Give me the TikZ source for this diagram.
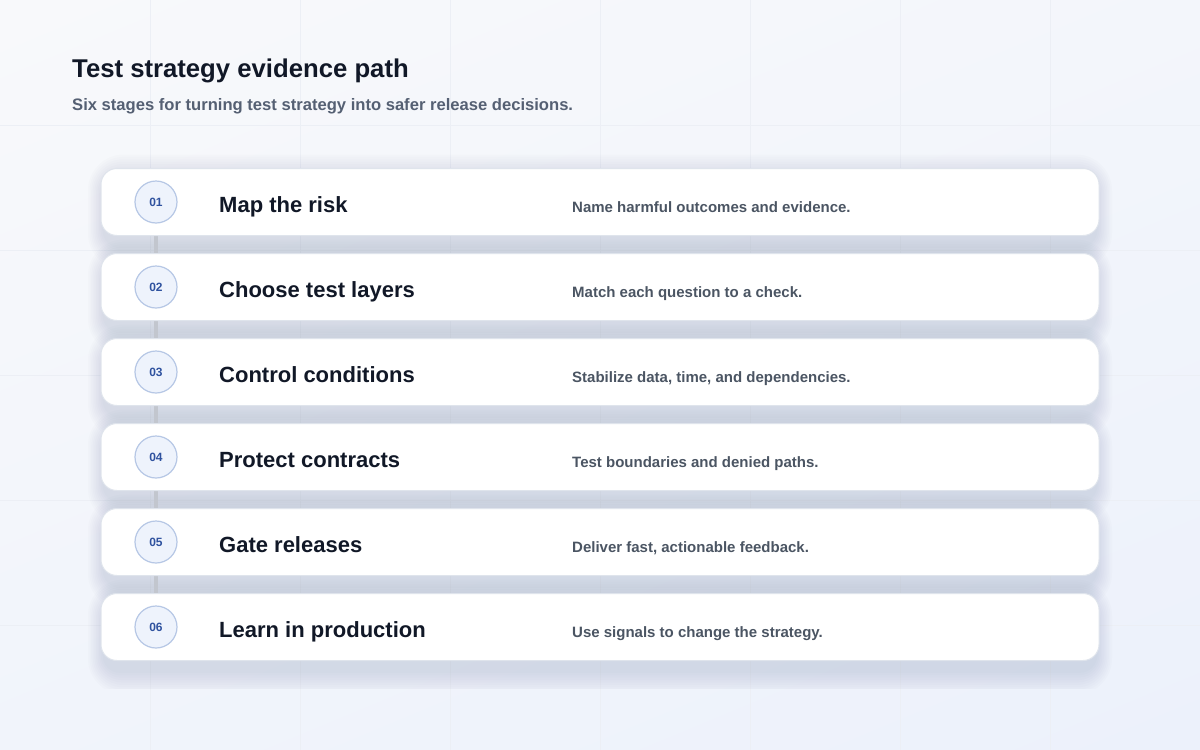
\documentclass[tikz,border=0pt]{standalone}
\usepackage{fontspec}
\setmainfont{Liberation Sans}
\usepackage{tikz}
\usetikzlibrary{positioning}
\usetikzlibrary{shadings}
\pgfdeclarelayer{background}
\pgfdeclarelayer{links}
\pgfsetlayers{background,links,main}

\definecolor{bgtl}{HTML}{F8F9FB}
\definecolor{bgbr}{HTML}{ECF1FB}
\definecolor{gridline}{HTML}{ECEFF5}
\definecolor{cardline}{HTML}{DFE4EC}
\definecolor{shadowc}{HTML}{7C8AA5}
\definecolor{dotfill}{HTML}{EEF3FC}
\definecolor{dotline}{HTML}{B6C7E5}
\definecolor{numblue}{HTML}{2F529F}
\definecolor{ink}{HTML}{111827}
\definecolor{subink}{HTML}{556073}
\definecolor{note}{HTML}{4B5563}
\definecolor{linkgray}{HTML}{C2C6CE}

\begin{document}
\begin{tikzpicture}
			[
				x = 1pt, y = -1pt,
				card/.style = {rectangle, minimum width = 998pt, minimum height = 67pt, rounded corners = 16pt, fill = white, draw = cardline, line width = 1pt},
				numdot/.style = {circle, minimum size = 42pt, inner sep = 0pt, fill = dotfill, draw = dotline, line width = 1.2pt, text = numblue, font = \fontsize{12}{14}\selectfont\bfseries},
				stagename/.style = {anchor = base west, inner sep = 0pt, text = ink, font = \fontsize{22}{26}\selectfont\bfseries},
				stagenote/.style = {anchor = base west, inner sep = 0pt, text = note, font = \fontsize{15}{18}\selectfont\bfseries},
				link/.style = {line width = 4pt, draw = linkgray},
			]
			\useasboundingbox (0,0) rectangle (1200,750);
			% page and faint grid
			\begin{pgfonlayer}{background}
				\shade[upper left = bgtl, upper right = bgtl!60!bgbr, lower left = bgtl!40!bgbr, lower right = bgbr] (0,0) rectangle (1200,750);
				\foreach \gx in {150,300,...,1050}
					\draw[gridline, line width = 0.8pt] (\gx,0) -- (\gx,750);
				\foreach \gy in {125,250,...,625}
					\draw[gridline, line width = 0.8pt] (0,\gy) -- (1200,\gy);
			\end{pgfonlayer}

			\node (title) [anchor = base west, inner sep = 0pt, text = ink, font = \fontsize{25.7}{30}\selectfont\bfseries] at (72,77) {Test strategy evidence path};
			\node (subtitle) [anchor = base west, inner sep = 0pt, text = subink, font = \fontsize{16.6}{20}\selectfont\bfseries] at (72,110) {Six stages for turning test strategy into safer release decisions.};

			% stages
			\foreach \i/\name/\note in {1/Map the risk/Name harmful outcomes and evidence.,
				2/Choose test layers/Match each question to a check.,
				3/Control conditions/{Stabilize data, time, and dependencies.},
				4/Protect contracts/Test boundaries and denied paths.,
				5/Gate releases/{Deliver fast, actionable feedback.},
				6/Learn in production/Use signals to change the strategy.}
			{
				\pgfmathsetmacro\y{202+85*(\i-1)}
				\begin{pgfonlayer}{background}
					\begin{scope}
						\clip (60,150) rectangle (1140,688);
						\foreach \k in {1,...,10} {
							\pgfmathsetmacro\rr{16+2*\k}
							\fill[shadowc, opacity = 0.022, rounded corners = \rr pt] (104-1.6*\k,\y-23.5-2.4*\k) rectangle (1096+1.6*\k,\y+43.5+2.4*\k);
						}
					\end{scope}
				\end{pgfonlayer}
				\node (card\i) [card] at (600,\y) {};
				\node (dot\i) [numdot] at (156,\y) {0\i};
				\node (name\i) [stagename] at (219,\y+10) {\name};
				\node (note\i) [stagenote] at (572,\y+10) {\note};
			}

			% rail between the number dots
			\begin{pgfonlayer}{links}
				\foreach \i [evaluate = \i as \j using int(\i+1)] in {1,...,5}
					\draw[link] (dot\i) -- (dot\j);
			\end{pgfonlayer}
		\end{tikzpicture}
\end{document}
